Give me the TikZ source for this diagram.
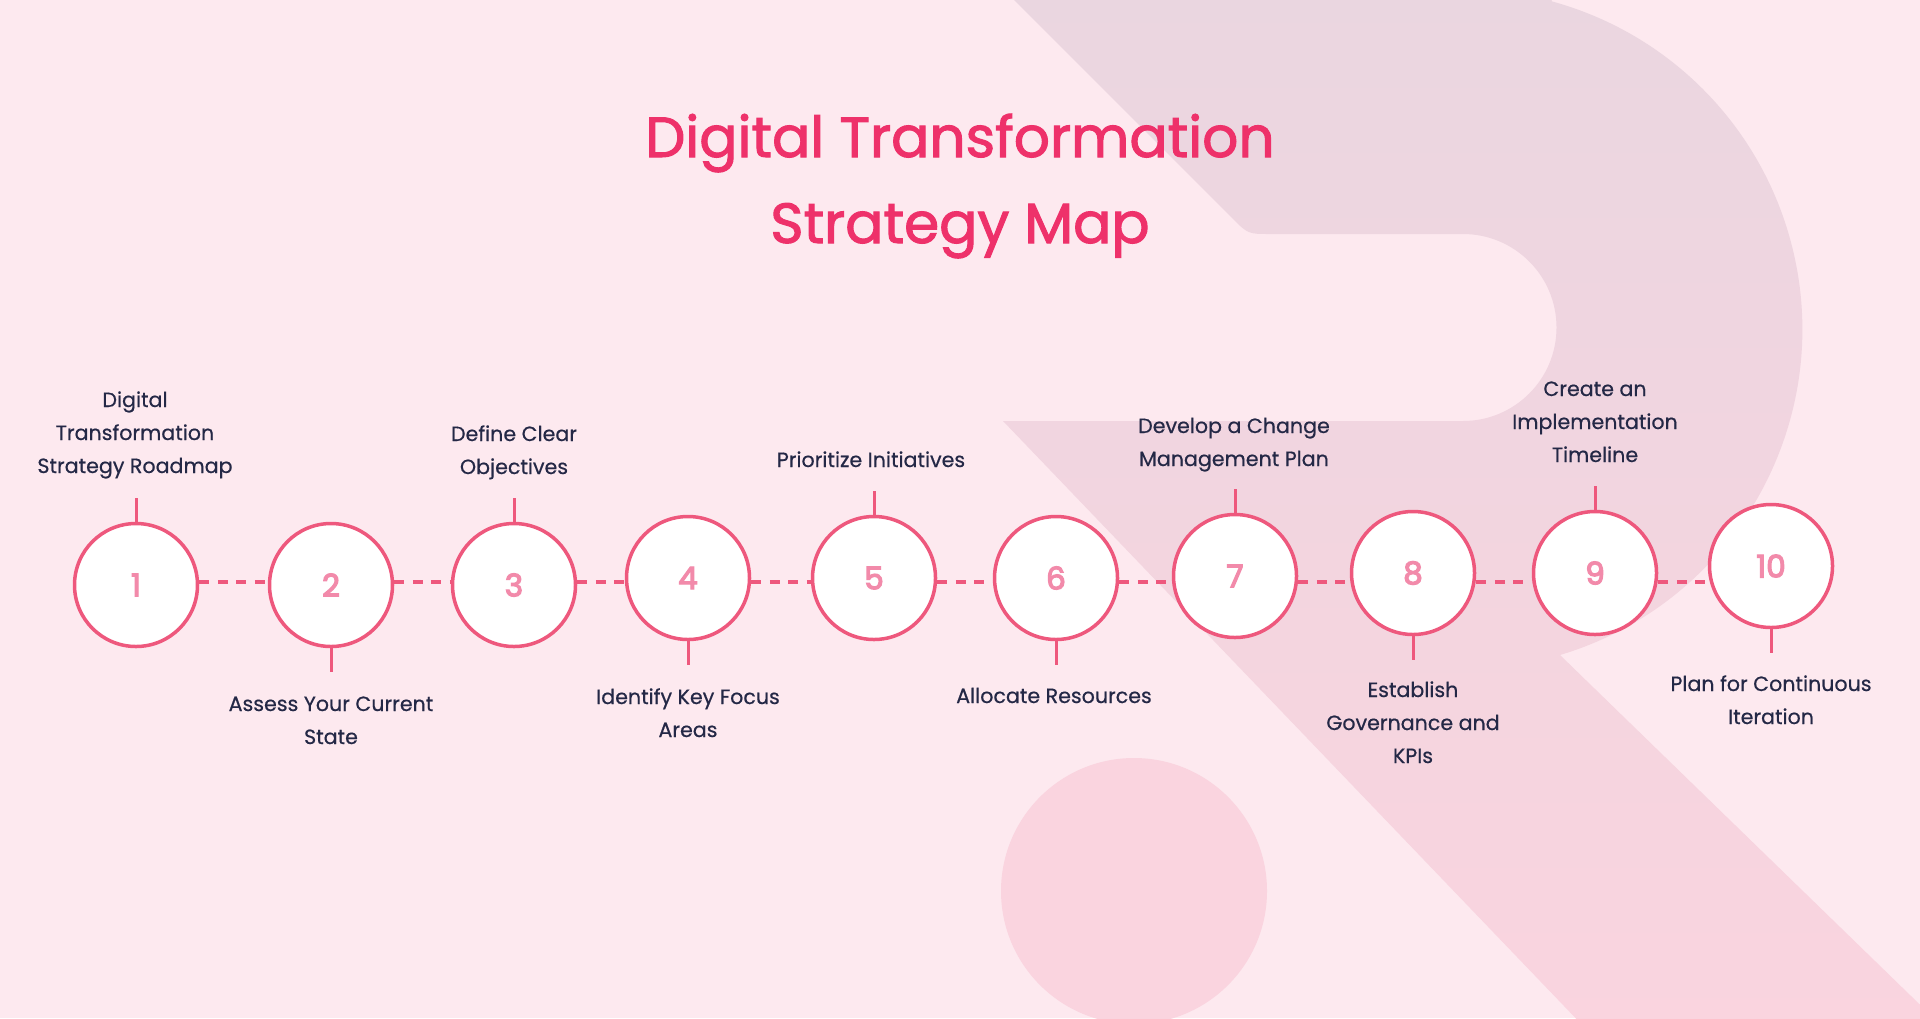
\documentclass[tikz,border=0pt]{standalone}
\usepackage{fontspec}
\setmainfont{Poppins}[FakeBold=0.5]
\newfontfamily\titlefont{Poppins}[FakeBold=1.8]
\newfontfamily\numfont{Poppins}[FakeBold=4]
\usetikzlibrary{calc}
\definecolor{bg}{RGB}{253,233,239}
\definecolor{rtop}{RGB}{234,214,224}
\definecolor{rmid}{RGB}{242,214,226}
\definecolor{rbot}{RGB}{250,212,223}
\definecolor{blob}{RGB}{250,212,223}
\definecolor{ringc}{RGB}{238,88,125}
\definecolor{numc}{RGB}{242,138,170}
\definecolor{txtc}{RGB}{36,40,70}
\definecolor{titlec}{RGB}{238,49,106}
\tikzset{
  stepc/.style={circle, draw=ringc, line width=1.75pt, fill=white, minimum size=61.5pt, inner sep=0pt,
    text=numc, font=\numfont\fontsize{15.5}{15.5}\selectfont},
  dashc/.style={draw=ringc, line width=2pt, dash pattern=on 5pt off 4.25pt},
  stemc/.style={draw=ringc, line width=1.5pt},
  lbl/.style={text=txtc, align=center, inner sep=0pt, anchor=base, font=\fontsize{10.3}{16.5}\selectfont},
  ttl/.style={text=titlec, align=center, inner sep=0pt, anchor=base, font=\titlefont\fontsize{28.3}{43}\selectfont}
}
\begin{document}
\begin{tikzpicture}[x=0.5pt,y=-0.5pt]
\useasboundingbox (0,0) rectangle (1920,1018);
\fill[bg] (0,0) rectangle (1920,1018);
\begin{scope}
\clip (0,0) rectangle (1920,1018);
\shade[top color=rtop, middle color=rmid, bottom color=rbot]
  (1004,-10) -- (1232,218) .. controls (1248,234) .. (1270,234) -- (1463,234)
  arc[start angle=-90, end angle=90, radius=93.5] -- (1003,421) -- (1587,1030) -- (1946,1030)
  -- (1560,655) arc[start angle=73.3, end angle=-74.8, radius=340] -- (1555,-10) -- cycle;
\fill[blob] (1134,891) circle[radius=133];
\end{scope}

\node[ttl] (title) at (960,243) {Digital Transformation\\Strategy Map};

\coordinate (L) at (0,582);
\node[stepc] (c1) at (136,585) {1};
\node[stepc] (c2) at (331,585) {2};
\node[stepc] (c3) at (514,585) {3};
\node[stepc] (c4) at (688,578) {4};
\node[stepc] (c5) at (874,578) {5};
\node[stepc] (c6) at (1056,578) {6};
\node[stepc] (c7) at (1235,576) {7};
\node[stepc] (c8) at (1413,573) {8};
\node[stepc] (c9) at (1595,573) {9};
\node[stepc] (c10) at (1771,566) {10};

\foreach \a/\b in {c1/c2,c2/c3,c3/c4,c4/c5,c5/c6,c6/c7,c7/c8,c8/c9,c9/c10}
  \draw[dashc] (\a.east |- L) -- (\b.west |- L);

\foreach \n in {c1,c3,c5,c7,c9}
  \draw[stemc] (\n.north) -- ++(0,-24);
\foreach \n in {c2,c4,c6,c8,c10}
  \draw[stemc] (\n.south) -- ++(0,24);

\node[lbl] (t1) at (135,473) {Digital\\Transformation\\Strategy Roadmap};
\node[lbl] (t2) at (331,744) {Assess Your Current\\State};
\node[lbl] (t3) at (514,474) {Define Clear\\Objectives};
\node[lbl] (t4) at (688,737) {Identify Key Focus\\Areas};
\node[lbl] (t5) at (871,467) {Prioritize Initiatives};
\node[lbl] (t6) at (1054,703) {Allocate Resources};
\node[lbl] (t7) at (1234,466) {Develop a Change\\Management Plan};
\node[lbl] (t8) at (1413,763) {Establish\\Governance and\\KPIs};
\node[lbl] (t9) at (1595,462) {Create an\\Implementation\\Timeline};
\node[lbl] (t10) at (1771,724) {Plan for Continuous\\Iteration};
\end{tikzpicture}
\end{document}
